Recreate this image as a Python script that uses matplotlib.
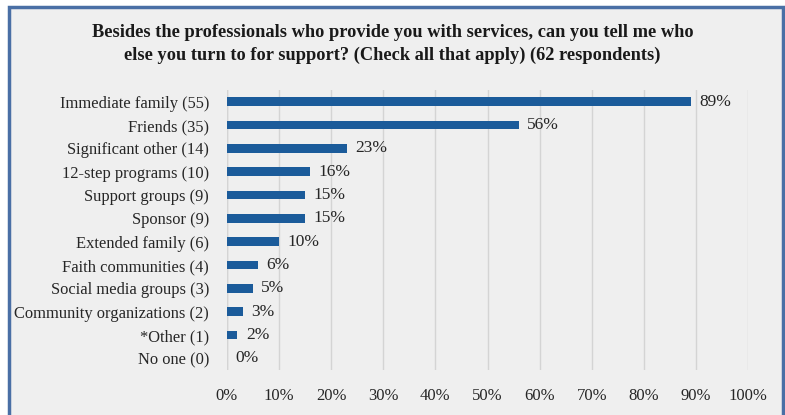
import matplotlib.pyplot as plt
from matplotlib.patches import Rectangle
from matplotlib.ticker import PercentFormatter

# support sources, top to bottom
sources = ['Immediate family (55)', 'Friends (35)', 'Significant other (14)',
           '12-step programs (10)', 'Support groups (9)', 'Sponsor (9)',
           'Extended family (6)', 'Faith communities (4)', 'Social media groups (3)',
           'Community organizations (2)', '*Other (1)', 'No one (0)']
pct = [89, 56, 23, 16, 15, 15, 10, 6, 5, 3, 2, 0]

plt.rcParams['font.family'] = ['Liberation Serif', 'DejaVu Serif']

fig = plt.figure(figsize=(7.85, 4.15), dpi=100)
fig.patch.set_facecolor('white')

# grey panel with blue frame
frame = Rectangle((8.5 / 785, -0.05), 774 / 785, 1 - 6.5 / 415 + 0.05,
                  transform=fig.transFigure, facecolor='#efefef',
                  edgecolor='#4a6fa5', linewidth=2.5, zorder=-5)
fig.patches.append(frame)

ax = fig.add_axes([227 / 785, 45 / 415, 521 / 785, 280 / 415])
ax.set_facecolor('none')

y = list(range(len(sources)))
ax.barh(y, pct, height=0.36, color='#1b5b9a', zorder=3)
for yi, p in zip(y, pct):
    ax.text(p + 1.6, yi, f'{p}%', va='center', ha='left',
            fontsize=12.5, color='#262626')

ax.set_xlim(0, 100)
ax.set_ylim(len(sources) - 0.5, -0.5)
ax.set_xticks(range(0, 101, 10))
ax.xaxis.set_major_formatter(PercentFormatter(decimals=0))
ax.set_yticks(y)
ax.set_yticklabels(sources)
ax.tick_params(axis='x', length=0, pad=13, labelsize=12, labelcolor='#262626')
ax.tick_params(axis='y', length=0, pad=13, labelsize=11.9, labelcolor='#262626')
ax.grid(axis='x', color='#d4d4d4', linewidth=1, zorder=0)
for s in ax.spines.values():
    s.set_visible(False)
ax.axvline(0, color='#d4d4d4', linewidth=1, zorder=1)

fig.text(0.5, 1 - 44 / 415,
         'Besides the professionals who provide you with services, can you tell me who\n'
         'else you turn to for support? (Check all that apply) (62 respondents)',
         ha='center', va='center', fontsize=13.2, fontweight='bold',
         color='#1a1a1a', linespacing=1.4)

fig.savefig('out.png', dpi=100, facecolor=fig.get_facecolor())
